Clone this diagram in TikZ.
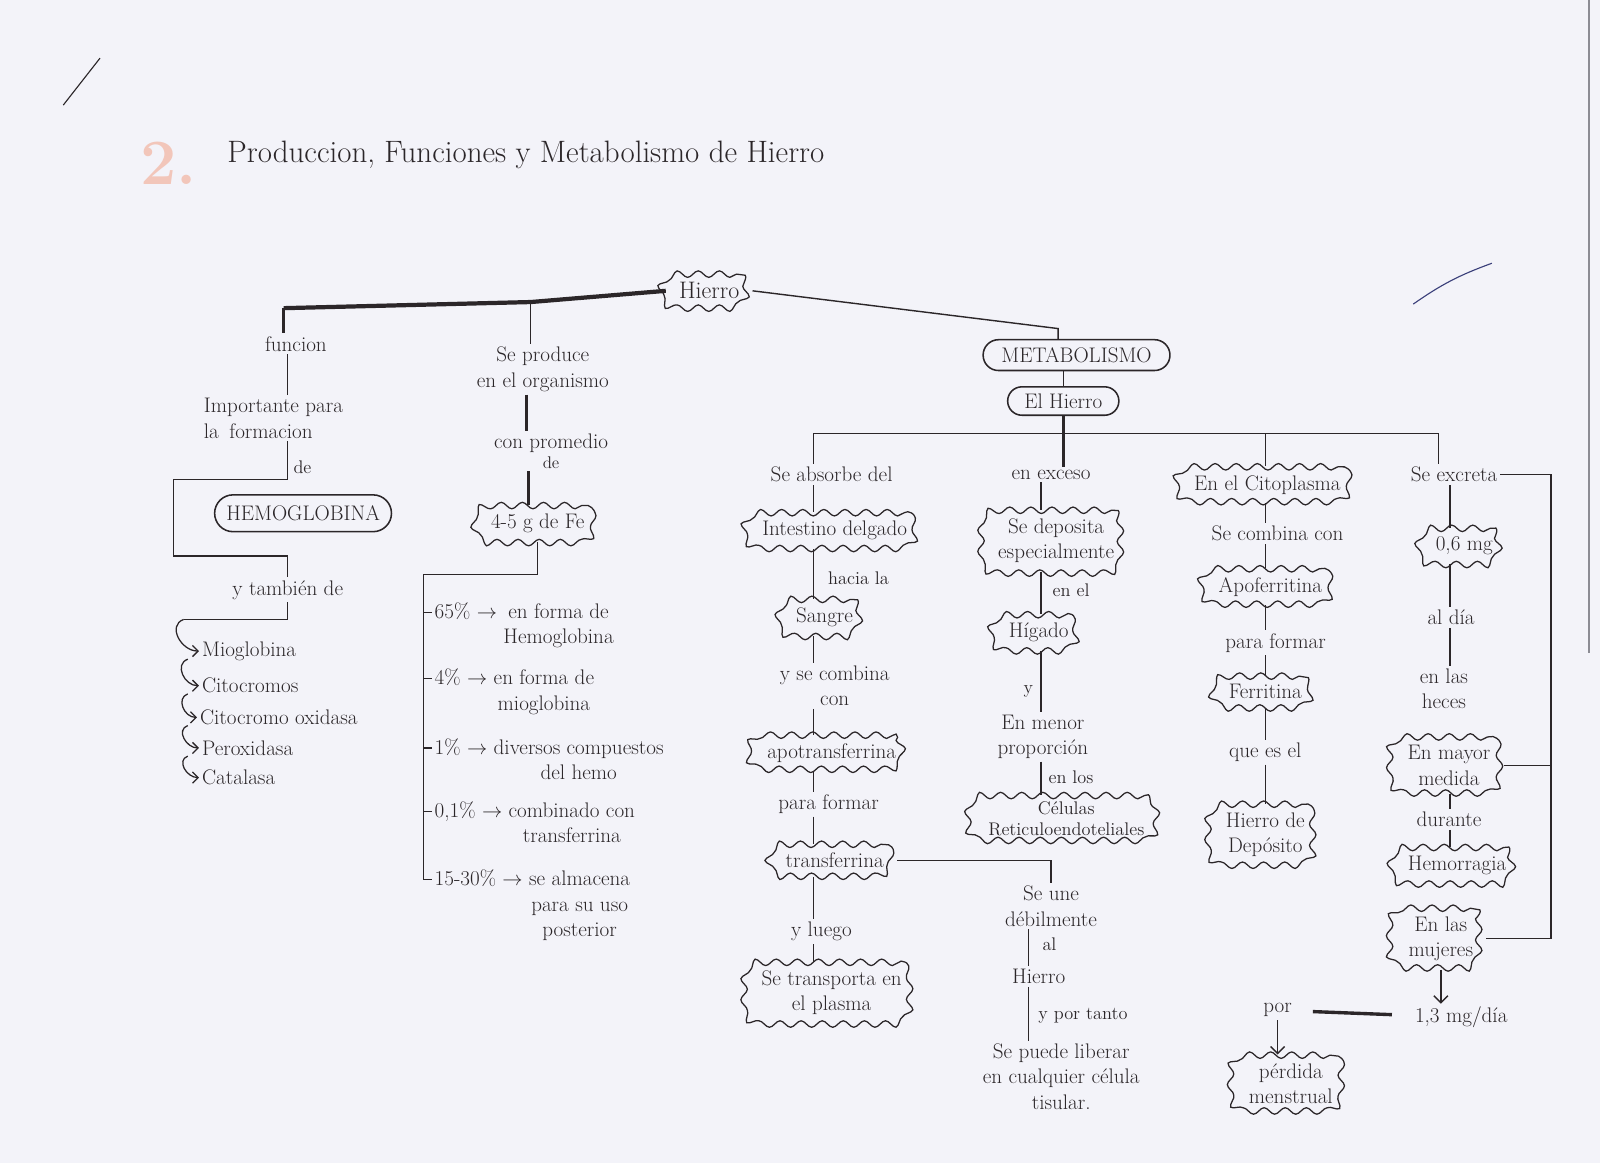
\documentclass[tikz,border=0pt]{standalone}
\usepackage{tikz}
\usetikzlibrary{arrows.meta, positioning, calc, decorations.pathmorphing, shapes.misc}
\usepackage{xcolor}
\definecolor{inkDark}{HTML}{2B2629}
\definecolor{paperTint}{HTML}{F3F3F9}
\definecolor{fadedRed}{HTML}{F2C6BA}
\definecolor{edgeGray}{HTML}{8C8C94}
\definecolor{penBlue}{HTML}{3A3F7A}

\tikzset{
  cloudbox/.style={rectangle, rounded corners=11pt, line width=0.9pt,
    postaction={draw, sharp corners, decorate,
      decoration={snake, amplitude=2.3pt, segment length=15pt}},
    align=center, inner xsep=9pt, inner ysep=6pt},
  pillbox/.style={rounded rectangle, draw, line width=1.1pt, inner sep=4pt},
  plaintext/.style={align=center, inner sep=2pt},
  conn/.style={line width=1pt},
  heavyconn/.style={line width=2.2pt},
  curl/.style={line width=0.9pt, -{Straight Barb[length=4pt]}},
  edgelbl/.style={font=\fontsize{13}{15}\selectfont, inner sep=1pt},
}

\begin{document}
\begin{tikzpicture}[x=0.0255cm, y=-0.0255cm, color=inkDark,
    font=\fontsize{15}{18}\selectfont]
  \fill[paperTint] (0,0) rectangle (1568,1140);
  \useasboundingbox (0,0) rectangle (1568,1140);

  % marks on the sheet
  \draw[line width=0.8pt] (62,103) -- (98,57);
  \draw[penBlue, line width=0.8pt] (1385,298) to[out=35,in=200] (1462,258);
  \draw[edgeGray, line width=1.2pt] (1557,0) -- (1557,640);

  % title
  \node[text=fadedRed, font=\fontsize{46}{48}\selectfont\bfseries] (num) at (165,160) {2.};
  \node[anchor=west, font=\fontsize{22}{26}\selectfont] (title) at (218,152)
    {Produccion, Funciones y Metabolismo de Hierro};

  % root
  \node[cloudbox, font=\fontsize{17}{20}\selectfont] (hierro) at (695,285) {Hierro};
  \coordinate (barFun) at (278,302);
  \coordinate (barProd) at (520,296);
  \coordinate (metTop) at (1037,322);

  % funcion branch
  \node[plaintext] (funcion) at (290,337) {funcion};
  \node[plaintext, align=left] (importa) at (268,410) {Importante para\\la\enspace formacion};
  \node[pillbox, minimum width=4.7cm, minimum height=0.92cm] (hemo) at (297,503) {HEMOGLOBINA};
  \node[plaintext] (tambien) at (282,578) {y también de};
  \node[plaintext, anchor=west] (mio) at (195,638) {Mioglobina};
  \node[plaintext, anchor=west] (citoc) at (195,672) {Citocromos};
  \node[plaintext, anchor=west] (citox) at (193,703) {Citocromo oxidasa};
  \node[plaintext, anchor=west] (perox) at (195,733) {Peroxidasa};
  \node[plaintext, anchor=west] (catal) at (195,762) {Catalasa};

  \draw[line width=3pt] (hierro.west) -- (barProd) -- (barFun);
  \draw[heavyconn] (barFun) -- (barFun |- funcion.north);
  \draw[conn] (funcion.south -| 282,0) -- (importa.north -| 282,0);
  \coordinate (deFoot) at (282,470);
  \coordinate (brkTL) at (170,470);
  \coordinate (brkBL) at (170,545);
  \draw[conn] (deFoot |- importa.south) -- (deFoot) -- (brkTL) -- (brkBL)
    -- (brkBL -| tambien.north) -- (tambien.north);
  \node[edgelbl, anchor=west] at (286,458) {de};
  \coordinate (listTop) at (180,607);
  \draw[conn] (tambien.south) -- (tambien.south |- listTop) -- (listTop);
  \coordinate (curlA) at (184,646);
  \coordinate (curlB) at (184,680);
  \coordinate (curlC) at (184,711);
  \coordinate (curlD) at (184,741);
  \draw[curl] (listTop) to[out=200,in=180,looseness=1.3] (mio.west);
  \draw[curl] (curlA) to[out=200,in=180,looseness=1.3] (citoc.west);
  \draw[curl] (curlB) to[out=200,in=180,looseness=1.3] (citox.west);
  \draw[curl] (curlC) to[out=200,in=180,looseness=1.3] (perox.west);
  \draw[curl] (curlD) to[out=200,in=180,looseness=1.3] (catal.west);

  % produccion branch
  \node[plaintext] (produce) at (532,362) {Se produce\\en el organismo};
  \node[plaintext] (promedio) at (540,442) {con promedio\\[-4pt]{\fontsize{12}{12}\selectfont de}};
  \node[cloudbox] (fe) at (527,513) {4-5 g de Fe};
  \draw[conn] (barProd) -- (barProd |- produce.north);
  \draw[heavyconn] (produce.south -| 516,0) -- (promedio.north -| 516,0);
  \draw[heavyconn] (promedio.south -| 518,0) -- (fe.north -| 518,0);

  \node[plaintext, anchor=base west] (p65) at (423,606)
    {65\% $\rightarrow$ \begin{tabular}[t]{@{}c@{}}en forma de\\Hemoglobina\end{tabular}};
  \node[plaintext, anchor=base west] (p4) at (423,671)
    {4\% $\rightarrow$ \begin{tabular}[t]{@{}c@{}}en forma de\\mioglobina\end{tabular}};
  \node[plaintext, anchor=base west] (p1) at (423,739)
    {1\% $\rightarrow$ \begin{tabular}[t]{@{}c@{}}diversos compuestos\\del hemo\end{tabular}};
  \node[plaintext, anchor=base west] (p01) at (423,801)
    {0,1\% $\rightarrow$ \begin{tabular}[t]{@{}c@{}}combinado con\\transferrina\end{tabular}};
  \node[plaintext, anchor=base west] (p15) at (423,868)
    {15-30\% $\rightarrow$ \begin{tabular}[t]{@{}c@{}}se almacena\\para su uso\\posterior\end{tabular}};
  \coordinate (pctTop) at (415,563);
  \coordinate (pctBot) at (415,862);
  \draw[conn] (fe.south) -- (fe.south |- pctTop) -- (pctTop) -- (pctBot);
  \foreach \p in {p65, p4, p1, p01, p15}
    \draw[conn] ($(\p.base west)+(-8,-6)$) -- ($(\p.base west)+(0,-6)$);

  % metabolismo branch
  \node[pillbox, minimum width=4.95cm, minimum height=0.77cm] (metab) at (1055,348) {METABOLISMO};
  \node[pillbox, minimum width=3.06cm, minimum height=0.71cm] (elhierro) at (1042,393) {El Hierro};
  \draw[conn] (hierro.east) -- (metTop) -- (metTop |- metab.north);
  \draw[conn] (elhierro.north) -- (elhierro.north |- metab.south);

  \coordinate (barY) at (0,425);
  \coordinate (colA) at (797,0);
  \coordinate (colB) at (1020,0);
  \coordinate (colBB) at (1008,0);
  \coordinate (colC) at (1240,0);
  \coordinate (colD) at (1421,0);
  \coordinate (barEnd) at (1410,425);

  % column: absorcion
  \node[plaintext] (absorbe) at (815,465) {Se absorbe del};
  \node[cloudbox] (intestino) at (818,520) {Intestino delgado};
  \node[cloudbox] (sangre) at (808,605) {Sangre};
  \node[plaintext] (combina) at (818,672) {y se combina\\con};
  \node[cloudbox] (apotrans) at (815,738) {apotransferrina};
  \node[plaintext] (formarA) at (812,788) {para formar};
  \node[cloudbox] (transf) at (818,843) {transferrina};
  \node[plaintext] (luego) at (805,913) {y luego};
  \node[cloudbox] (plasma) at (815,973) {Se transporta en\\el plasma};
  \node[edgelbl, anchor=west] at (810,567) {hacia la};

  % column: exceso
  \node[plaintext] (exceso) at (1030,465) {en exceso};
  \node[cloudbox] (deposita) at (1035,530) {Se deposita\\especialmente};
  \node[cloudbox] (higado) at (1018,620) {Hígado};
  \node[plaintext] (menor) at (1022,722) {En menor\\proporción};
  \node[cloudbox, font=\fontsize{13}{15}\selectfont, inner xsep=11pt, inner ysep=4pt] (celulas) at (1045,802) {Células\\Reticuloendoteliales};
  \node[plaintext] (une) at (1030,888) {Se une\\débilmente};
  \node[plaintext] (hierroB) at (1018,957) {Hierro};
  \node[plaintext] (liberar) at (1040,1055) {Se puede liberar\\en cualquier célula\\tisular.};
  \node[edgelbl, anchor=west] at (1030,578) {en el};
  \node[edgelbl, anchor=east] at (1014,678) {y};
  \node[edgelbl, anchor=west] at (1026,762) {en los};
  \node[edgelbl, anchor=west] at (1020,925) {al};
  \node[edgelbl, anchor=west] at (1016,995) {y por tanto};

  % column: citoplasma
  \node[cloudbox] (citopl) at (1242,475) {En el Citoplasma};
  \node[plaintext] (combinaC) at (1252,523) {Se combina con};
  \node[cloudbox] (apoferr) at (1245,575) {Apoferritina};
  \node[plaintext] (formarC) at (1250,630) {para formar};
  \node[cloudbox] (ferrit) at (1240,678) {Ferritina};
  \node[plaintext] (quees) at (1240,737) {que es el};
  \node[cloudbox] (deposito) at (1240,818) {Hierro de\\Depósito};

  % column: excrecion
  \node[plaintext] (excreta) at (1425,465) {Se excreta};
  \node[cloudbox] (mgSeis) at (1435,535) {0,6 mg};
  \node[plaintext] (aldia) at (1422,605) {al día};
  \node[plaintext] (heces) at (1415,675) {en las\\heces};
  \node[cloudbox] (mayor) at (1420,750) {En mayor\\medida};
  \node[plaintext] (durante) at (1420,803) {durante};
  \node[cloudbox] (hemorr) at (1428,848) {Hemorragia};
  \node[cloudbox] (mujeres) at (1412,920) {En las\\mujeres};
  \node[plaintext] (mgTrece) at (1432,997) {1,3 mg/día};
  \node[plaintext] (por) at (1252,990) {por};
  \node[cloudbox] (perdida) at (1265,1062) {pérdida\\menstrual};

  % tree under El Hierro
  \draw[conn] (colA |- barY) -- (barEnd);
  \draw[conn] (colA |- barY) -- (colA |- absorbe.north);
  \draw[heavyconn] (elhierro.south) -- (elhierro.south |- exceso.north);
  \draw[conn] (colC |- barY) -- (colC |- citopl.north);
  \draw[conn] (barEnd) -- (barEnd |- excreta.north);

  \foreach \a/\b in {absorbe/intestino, intestino/sangre, sangre/combina,
      combina/apotrans, apotrans/formarA, formarA/transf, transf/luego, luego/plasma}
    \draw[conn] (colA |- \a.south) -- (colA |- \b.north);
  \foreach \a/\b in {exceso/deposita, deposita/higado, higado/menor, menor/celulas}
    \draw[conn] (colB |- \a.south) -- (colB |- \b.north);
  \foreach \a/\b in {une/hierroB, hierroB/liberar}
    \draw[conn] (colBB |- \a.south) -- (colBB |- \b.north);
  \foreach \a/\b in {citopl/combinaC, combinaC/apoferr, apoferr/formarC,
      formarC/ferrit, ferrit/quees, quees/deposito}
    \draw[conn] (colC |- \a.south) -- (colC |- \b.north);
  \foreach \a/\b in {excreta/mgSeis, mgSeis/aldia, aldia/heces, mayor/durante, durante/hemorr}
    \draw[conn] (colD |- \a.south) -- (colD |- \b.north);

  \draw[conn] (transf.east) -| (une.north);

  \coordinate (brR) at (1520,0);
  \draw[conn] (excreta.east) -- (excreta.east -| brR) -- (mujeres.east -| brR) -- (mujeres.east);
  \draw[conn] (mayor.east) -- (mayor.east -| brR);

  \draw[conn, -{Straight Barb[length=5pt]}] (mujeres.south) -- (mujeres.south |- mgTrece.north);
  \draw[line width=2.4pt, shorten <=0.45cm, shorten >=0.5cm] (por) -- (mgTrece);
  \draw[conn, -{Straight Barb[length=5pt]}] (por.south) -- (por.south |- perdida.north);
\end{tikzpicture}
\end{document}
